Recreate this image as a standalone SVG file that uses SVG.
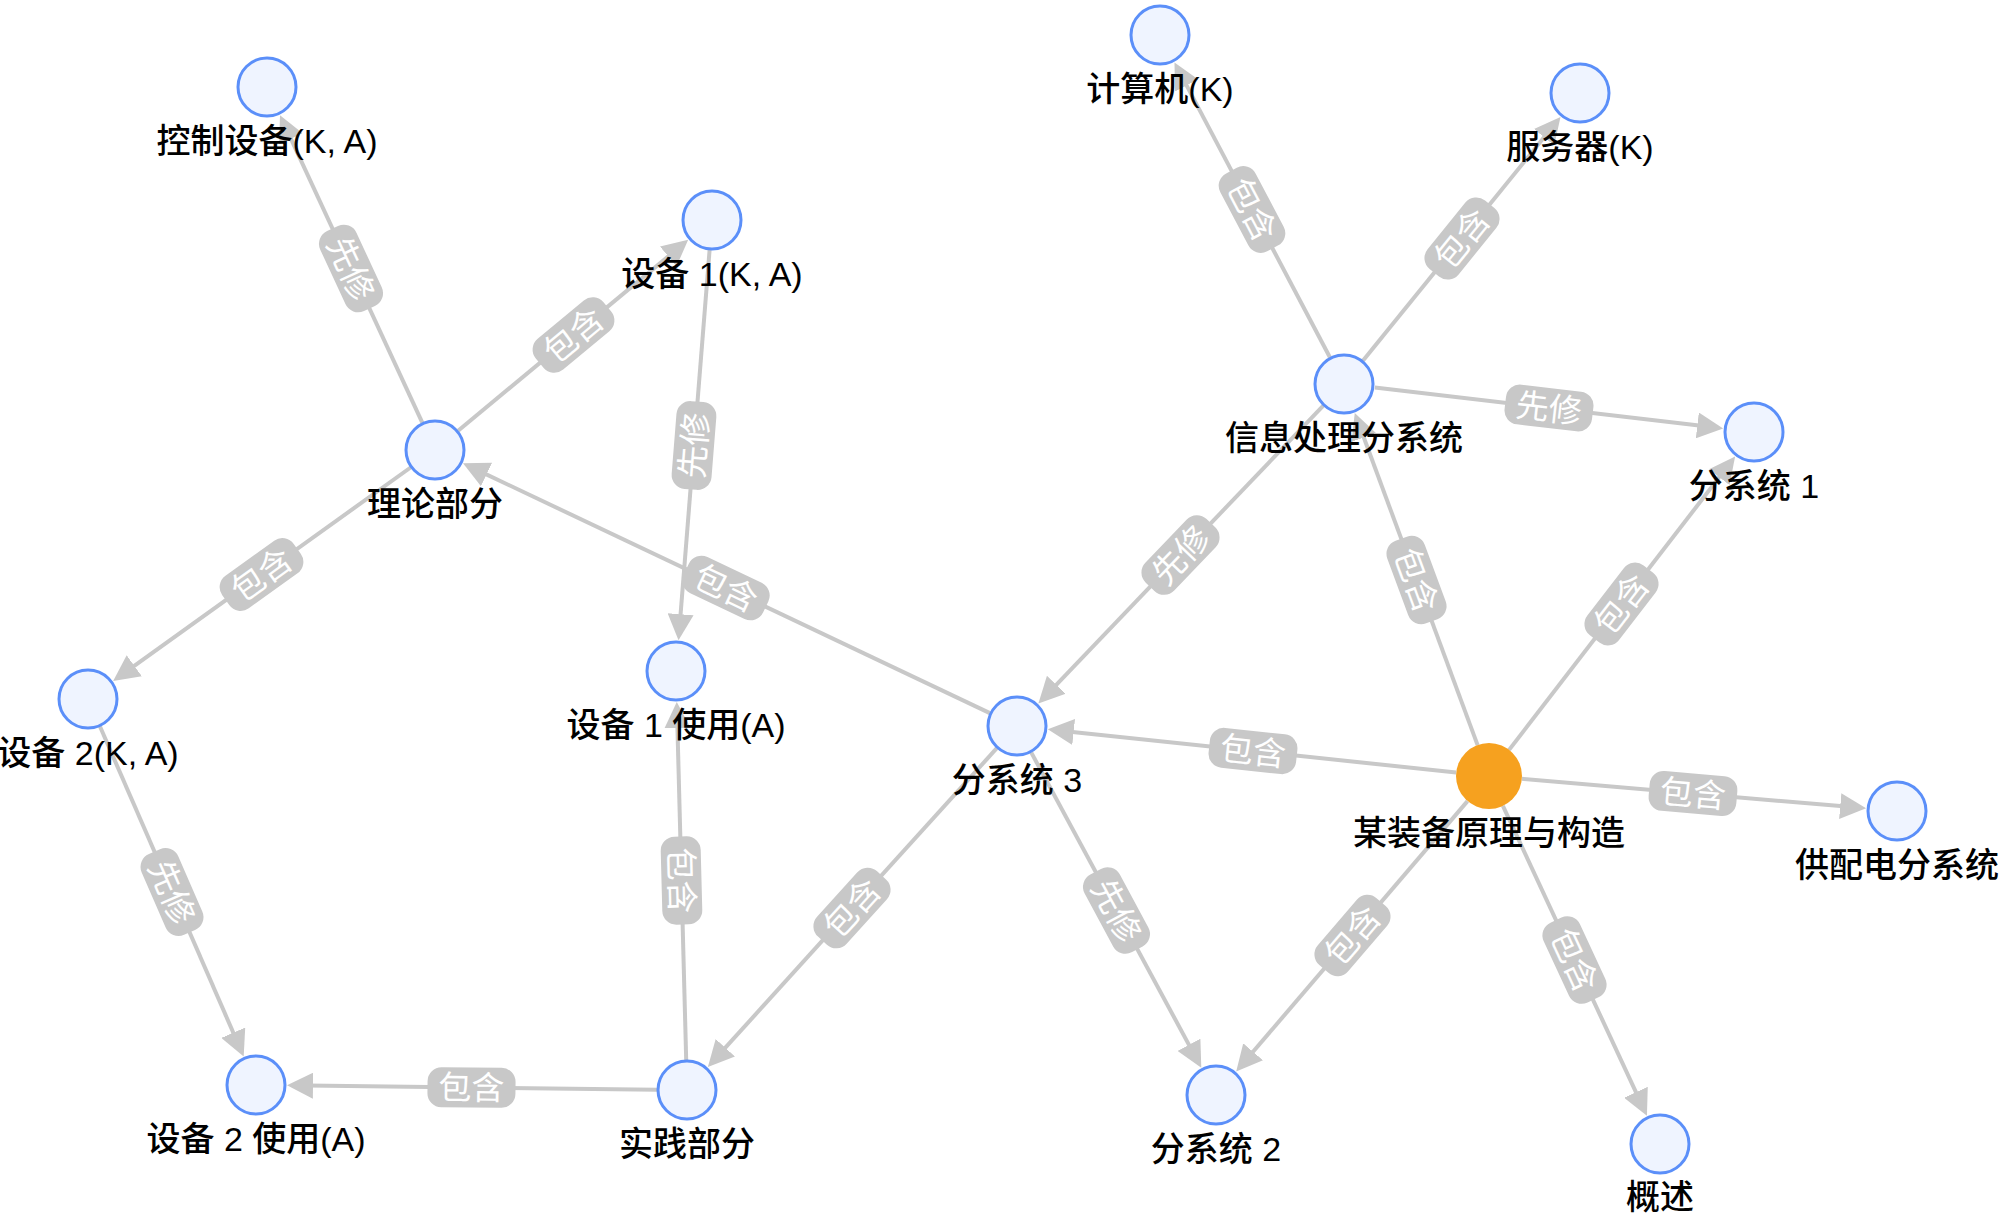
<svg xmlns="http://www.w3.org/2000/svg" width="2000" height="1215" viewBox="0 0 2000 1215">
<style>
.edge{stroke:#c8c8c8;stroke-width:4;fill:none;marker-end:url(#arr)}
.pill{fill:#c8c8c8}
.elab{font-family:"Noto Sans CJK SC","Liberation Sans",sans-serif;font-size:33px;fill:#ffffff;text-anchor:middle}
.node{fill:#eff4ff;stroke:#5b8ff9;stroke-width:3}
.root{fill:#f6a11f}
.nlab{font-family:"Liberation Sans","Noto Sans CJK SC",sans-serif;font-size:34px;font-weight:500;fill:#000000;text-anchor:middle}
</style>
<defs>
<marker id="arr" markerUnits="userSpaceOnUse" viewBox="0 0 26 26" markerWidth="26" markerHeight="26" refX="6" refY="13" orient="auto">
<path d="M0,0 L26,13 L0,26 Z" fill="#c8c8c8"/>
</marker>
<g id="pillshape"><rect class="pill" x="-44" y="-20" width="88" height="40" rx="14"/></g>
</defs>
<rect width="2000" height="1215" fill="#ffffff"/>
<g id="connectors">
<line class="edge" x1="422.4" y1="422.8" x2="288.4" y2="133.3"/>
<line class="edge" x1="458.1" y1="430.8" x2="672.8" y2="252.6"/>
<line class="edge" x1="709.6" y1="249.9" x2="680.1" y2="620.2"/>
<line class="edge" x1="410.6" y1="467.5" x2="129.4" y2="669.3"/>
<line class="edge" x1="989.9" y1="713.1" x2="481.1" y2="471.9"/>
<line class="edge" x1="100" y1="726.5" x2="235.7" y2="1038.2"/>
<line class="edge" x1="657" y1="1089.7" x2="307" y2="1085.6"/>
<line class="edge" x1="686.2" y1="1060" x2="677.3" y2="722"/>
<line class="edge" x1="996.8" y1="748.2" x2="721.3" y2="1052.2"/>
<line class="edge" x1="1323.3" y1="405.7" x2="1052.2" y2="689.1"/>
<line class="edge" x1="1456.2" y1="772.5" x2="1067.7" y2="731.4"/>
<line class="edge" x1="1031.2" y1="752.4" x2="1191.8" y2="1050.1"/>
<line class="edge" x1="1467.5" y1="801.1" x2="1249.2" y2="1056.3"/>
<line class="edge" x1="1502.9" y1="805.9" x2="1638.5" y2="1097.7"/>
<line class="edge" x1="1521.9" y1="778.8" x2="1846.2" y2="806.6"/>
<line class="edge" x1="1509.1" y1="749.9" x2="1722.9" y2="472.4"/>
<line class="edge" x1="1477.6" y1="745.1" x2="1361.7" y2="431.8"/>
<line class="edge" x1="1374.8" y1="387.6" x2="1703.3" y2="426.1"/>
<line class="edge" x1="1330" y1="357.5" x2="1183.8" y2="80.1"/>
<line class="edge" x1="1362.9" y1="360.7" x2="1547.9" y2="132.6"/>
<g transform="translate(351,268.5) rotate(65.2)"><use href="#pillshape"/><text class="elab" y="12">先修</text></g>
<g transform="translate(573.5,335) rotate(-39.7)"><use href="#pillshape"/><text class="elab" y="12">包含</text></g>
<g transform="translate(694,445.5) rotate(-85.44)"><use href="#pillshape"/><text class="elab" y="12">先修</text></g>
<g transform="translate(261.5,574.5) rotate(-35.66)"><use href="#pillshape"/><text class="elab" y="12">包含</text></g>
<g transform="translate(726,588) rotate(25.37)"><use href="#pillshape"/><text class="elab" y="12">包含</text></g>
<g transform="translate(172,892) rotate(66.48)"><use href="#pillshape"/><text class="elab" y="12">先修</text></g>
<g transform="translate(471.5,1087.5) rotate(0.66)"><use href="#pillshape"/><text class="elab" y="12">包含</text></g>
<g transform="translate(681.5,880.5) rotate(88.5)"><use href="#pillshape"/><text class="elab" y="12">包含</text></g>
<g transform="translate(852,908) rotate(-47.8)"><use href="#pillshape"/><text class="elab" y="12">包含</text></g>
<g transform="translate(1180.5,555) rotate(-46.3)"><use href="#pillshape"/><text class="elab" y="12">先修</text></g>
<g transform="translate(1253,751) rotate(6.05)"><use href="#pillshape"/><text class="elab" y="12">包含</text></g>
<g transform="translate(1116.5,910.5) rotate(61.66)"><use href="#pillshape"/><text class="elab" y="12">先修</text></g>
<g transform="translate(1352.5,935.5) rotate(-49.44)"><use href="#pillshape"/><text class="elab" y="12">包含</text></g>
<g transform="translate(1574.5,960) rotate(65.07)"><use href="#pillshape"/><text class="elab" y="12">包含</text></g>
<g transform="translate(1693,793.5) rotate(4.9)"><use href="#pillshape"/><text class="elab" y="12">包含</text></g>
<g transform="translate(1621.5,604) rotate(-52.39)"><use href="#pillshape"/><text class="elab" y="12">包含</text></g>
<g transform="translate(1416.5,580) rotate(69.7)"><use href="#pillshape"/><text class="elab" y="12">包含</text></g>
<g transform="translate(1549,408) rotate(6.68)"><use href="#pillshape"/><text class="elab" y="12">先修</text></g>
<g transform="translate(1252,209.5) rotate(62.2)"><use href="#pillshape"/><text class="elab" y="12">包含</text></g>
<g transform="translate(1462,238.5) rotate(-50.96)"><use href="#pillshape"/><text class="elab" y="12">包含</text></g>
</g>
<g id="n-kongzhi"><circle class="node" cx="267" cy="87" r="29"/><text class="nlab" x="267" y="153">控制设备(K, A)</text></g>
<g id="n-shebei1"><circle class="node" cx="712" cy="220" r="29"/><text class="nlab" x="712" y="286">设备 1(K, A)</text></g>
<g id="n-lilun"><circle class="node" cx="435" cy="450" r="29"/><text class="nlab" x="435" y="516">理论部分</text></g>
<g id="n-shebei2"><circle class="node" cx="88" cy="699" r="29"/><text class="nlab" x="88" y="765">设备 2(K, A)</text></g>
<g id="n-shebei1sy"><circle class="node" cx="676" cy="671" r="29"/><text class="nlab" x="676" y="737">设备 1 使用(A)</text></g>
<g id="n-shebei2sy"><circle class="node" cx="256" cy="1085" r="29"/><text class="nlab" x="256" y="1151">设备 2 使用(A)</text></g>
<g id="n-shijian"><circle class="node" cx="687" cy="1090" r="29"/><text class="nlab" x="687" y="1156">实践部分</text></g>
<g id="n-fxt3"><circle class="node" cx="1017" cy="726" r="29"/><text class="nlab" x="1017" y="792">分系统 3</text></g>
<g id="n-jisuanji"><circle class="node" cx="1160" cy="35" r="29"/><text class="nlab" x="1160" y="101">计算机(K)</text></g>
<g id="n-fuwuqi"><circle class="node" cx="1580" cy="93" r="29"/><text class="nlab" x="1580" y="159">服务器(K)</text></g>
<g id="n-xinxi"><circle class="node" cx="1344" cy="384" r="29"/><text class="nlab" x="1344" y="450">信息处理分系统</text></g>
<g id="n-fxt1"><circle class="node" cx="1754" cy="432" r="29"/><text class="nlab" x="1754" y="498">分系统 1</text></g>
<g id="n-root"><circle class="root" cx="1489" cy="776" r="33"/><text class="nlab" x="1489" y="845">某装备原理与构造</text></g>
<g id="n-gongpeidian"><circle class="node" cx="1897" cy="811" r="29"/><text class="nlab" x="1897" y="877">供配电分系统</text></g>
<g id="n-fxt2"><circle class="node" cx="1216" cy="1095" r="29"/><text class="nlab" x="1216" y="1161">分系统 2</text></g>
<g id="n-gaishu"><circle class="node" cx="1660" cy="1144" r="29"/><text class="nlab" x="1660" y="1209">概述</text></g>
</svg>
